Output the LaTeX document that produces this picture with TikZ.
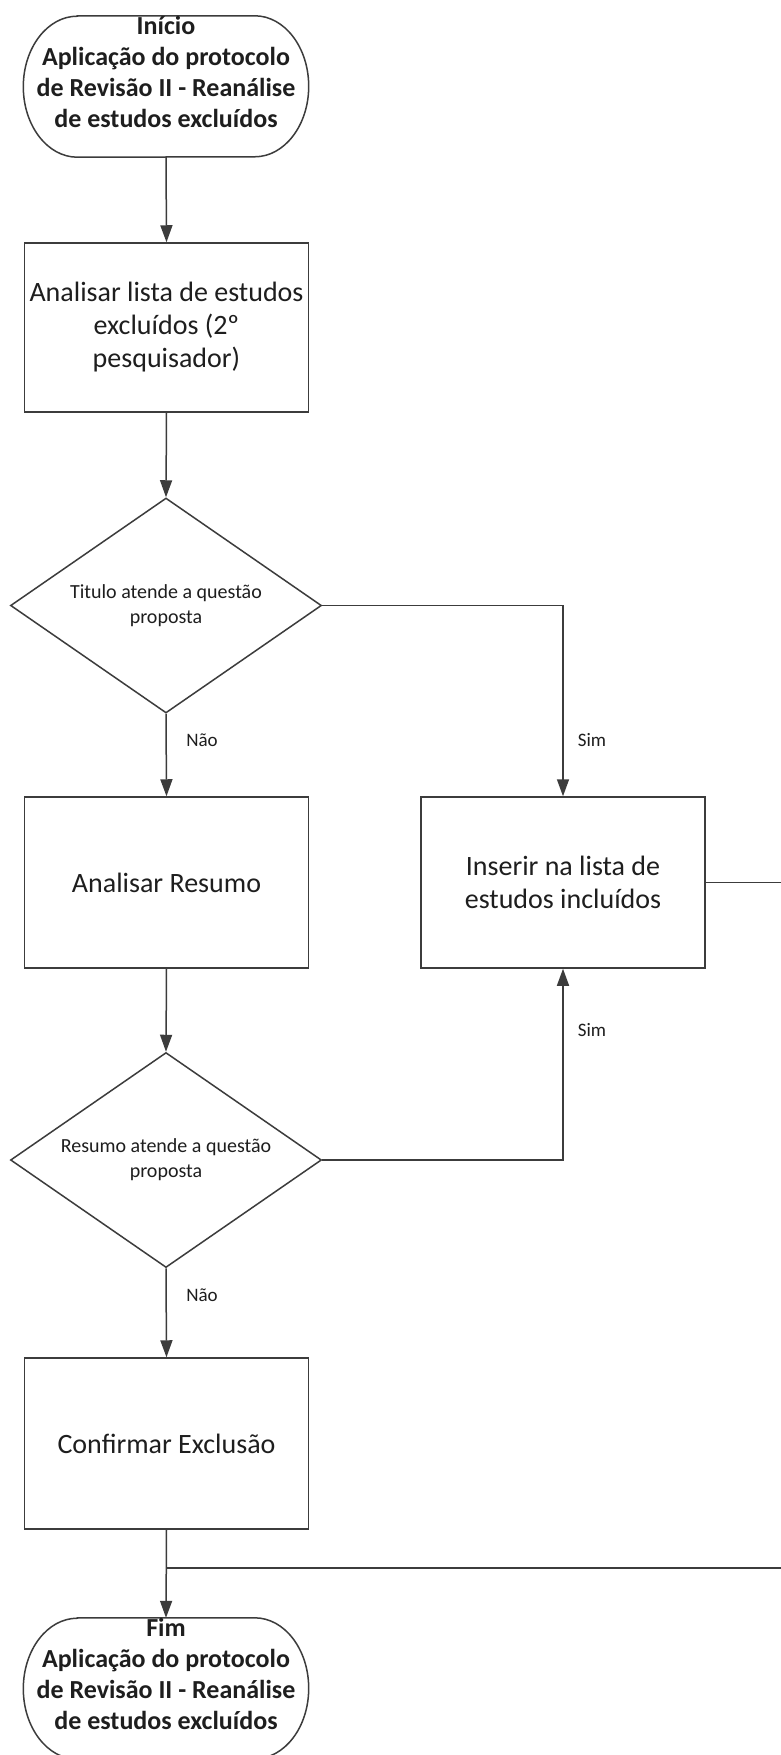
\documentclass[tikz,border=0pt]{standalone}
\usepackage{fontspec}
\setmainfont{Carlito}
\usetikzlibrary{arrows.meta,shapes.geometric}
\definecolor{linegray}{HTML}{3C3C3C}
\definecolor{inkgray}{HTML}{1E1E1E}

\begin{document}
\begin{tikzpicture}[x=1pt,y=-1pt,
  line/.style={draw=linegray, line width=1.5pt},
  arr/.style={line, -{Triangle[length=17pt,width=12pt]}},
  procbox/.style={draw=linegray, line width=1.5pt, minimum width=284pt,
    minimum height=170pt, inner sep=0pt, align=center, text=inkgray,
    font=\fontsize{28}{33}\selectfont},
  decision/.style={diamond, shape aspect=1.45, draw=linegray, line width=1.5pt,
    minimum width=311pt, minimum height=215pt, inner sep=0pt, align=center,
    text=inkgray, font=\fontsize{20}{25}\selectfont},
  answer/.style={inner sep=0pt, text=inkgray, font=\fontsize{19}{22}\selectfont},
  termframe/.style={minimum width=285pt, minimum height=141pt, inner sep=0pt},
  termtext/.style={inner sep=0pt, align=center, text=inkgray,
    font=\bfseries\fontsize{26}{31}\selectfont},
]
\fill[white] (0,0) rectangle (781,1755);
\useasboundingbox (0,0) rectangle (781,1755);

% terminal outline: flat top and bottom with elliptical ends
\newcommand{\terminal}[1]{%
  \draw[line] ([xshift=54pt]#1.north west) -- ([xshift=-54pt]#1.north east)
    arc[start angle=90, end angle=-90, x radius=54pt, y radius=70.5pt]
    -- ([xshift=54pt]#1.south west)
    arc[start angle=270, end angle=90, x radius=54pt, y radius=70.5pt] -- cycle;}

% start
\node[termframe] (start) at (166,86.5) {};
\terminal{start}
\node[termtext] (starttxt) at (166,71.5)
  {Início\\Aplicação do protocolo\\de Revisão II - Reanálise\\de estudos excluídos};

% steps
\node[procbox, minimum height=169pt] (box1) at (166.5,327.5)
  {Analisar lista de estudos\\excluídos (2º\\pesquisador)};
\node[decision] (d1) at (166,605.5) {Titulo atende a questão\\proposta};
\node[procbox, minimum height=171pt] (box2) at (166.5,882.5) {Analisar Resumo};
\node[procbox, minimum height=171pt] (box3) at (563,882.5)
  {Inserir na lista de\\estudos incluídos};
\node[decision] (d2) at (166,1160) {Resumo atende a questão\\proposta};
\node[procbox, minimum height=171pt] (box4) at (166.5,1443.5) {Confirmar Exclusão};

% end
\node[termframe] (fim) at (166,1688.5) {};
\terminal{fim}
\node[termtext] (fimtxt) at (166,1673.5)
  {Fim\\Aplicação do protocolo\\de Revisão II - Reanálise\\de estudos excluídos};

% branch labels
\node[answer] (nao1) at (202,740) {Não};
\node[answer] (sim1) at (592,740) {Sim};
\node[answer] (sim2) at (592,1030) {Sim};
\node[answer] (nao2) at (202,1295) {Não};

% free ends running off the right edge
\coordinate (outA) at (781,882.5);
\coordinate (join) at (166,1568);
\coordinate (outB) at (781,1568);

% connectors
\draw[arr] (start.south) -- (box1.north);
\draw[arr] (box1.south) -- (d1.north);
\draw[arr] (d1.south) -- (box2.north);
\draw[arr] (d1.east) -| (box3.north);
\draw[arr] (box2.south) -- (d2.north);
\draw[arr] (d2.east) -| (box3.south);
\draw[arr] (d2.south) -- (box4.north);
\draw[arr] (box4.south) -- (fim.north);
\draw[line] (box3.east) -- (outA);
\draw[line] (join) -- (outB);
\end{tikzpicture}
\end{document}
